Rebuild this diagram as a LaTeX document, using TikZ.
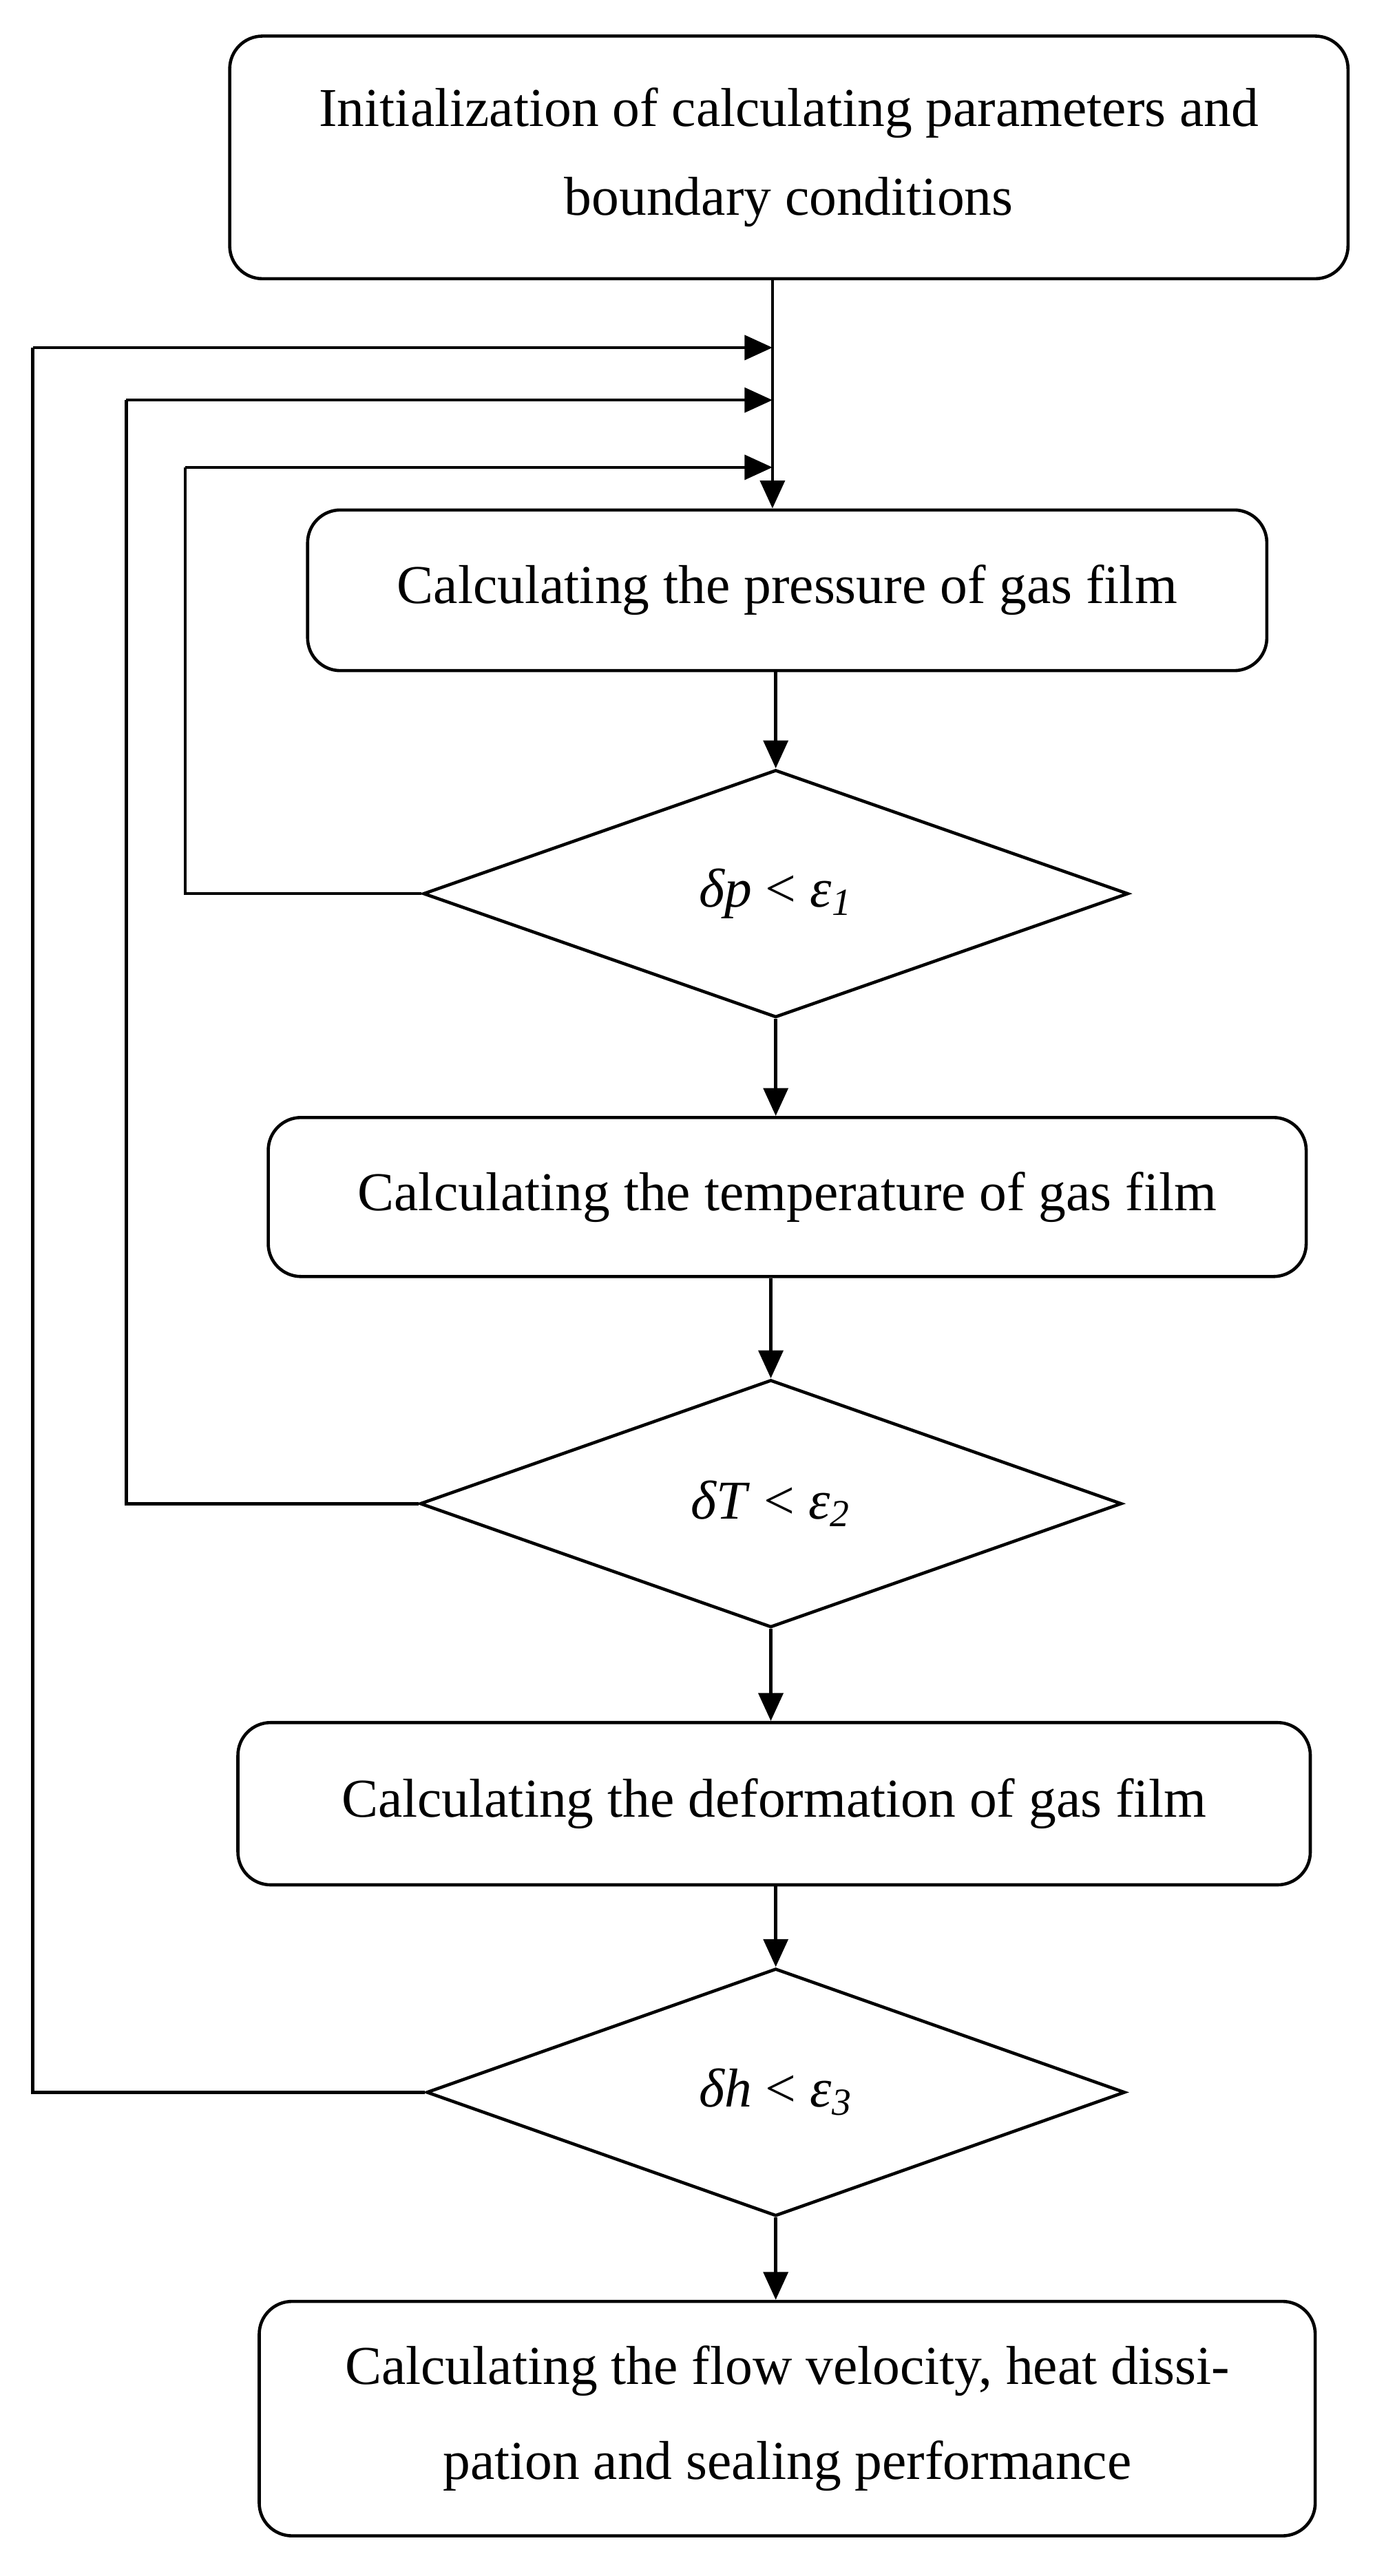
\documentclass[tikz,border=0pt]{standalone}
\usepackage{fontspec}
\setmainfont{Liberation Serif}
\usetikzlibrary{arrows.meta,shapes.geometric}

\begin{document}
\begin{tikzpicture}[
    x=0.02cm, y=-0.02cm,
    >={Triangle[length=0.34cm,width=0.3cm]},
    stepbox/.style={draw, rounded corners=0.4cm, line width=1.1pt,
        minimum width=#1, font=\fontsize{19}{31}\selectfont, align=center},
    testbox/.style={draw, diamond, line width=1.1pt, inner sep=0pt,
        minimum width=8.6cm, minimum height=3.02cm,
        font=\fontsize{19}{31}\selectfont},
    flow/.style={->, line width=1.1pt},
    loopline/.style={line width=1.1pt},
]
\useasboundingbox (0,0) rectangle (838,1571);

% === STEPS ===
\node[stepbox=13.64cm, minimum height=2.96cm] (init) at (481,96)
    {Initialization of calculating parameters and\\boundary conditions};
\node[stepbox=11.7cm, minimum height=1.96cm] (pres) at (480,360)
    {Calculating the pressure of gas film};
\node[testbox] (dp) at (473,545) {\textit{δp} < \textit{ε\textsubscript{1}}};
\node[stepbox=12.66cm, minimum height=1.94cm] (temp) at (480,730)
    {Calculating the temperature of gas film};
\node[testbox, minimum width=8.56cm] (dT) at (470,917) {\textit{δT} < \textit{ε\textsubscript{2}}};
\node[stepbox=13.08cm, minimum height=1.98cm] (defo) at (472,1100)
    {Calculating the deformation of gas film};
\node[testbox, minimum width=8.52cm] (dh) at (473,1276) {\textit{δh} < \textit{ε\textsubscript{3}}};
\node[stepbox=12.88cm, minimum height=2.86cm, font=\fontsize{19}{33}\selectfont] (perf) at (480,1475)
    {Calculating the flow velocity, heat dissi-\\pation and sealing performance};

% === JOINTS ON THE TRUNK ===
\coordinate (jh) at (471,212);
\coordinate (jT) at (471,244);
\coordinate (jp) at (471,285);
\coordinate (ch) at (20,212);
\coordinate (cT) at (77,244);
\coordinate (cp) at (113,285);

% === MAIN FLOW ===
\draw[flow] (init.south -| jh) -- (pres.north -| jh);
\draw[flow] (pres.south -| dp.north) -- (dp.north);
\draw[flow] (dp.south) -- (temp.north -| dp.south);
\draw[flow] (temp.south -| dT.north) -- (dT.north);
\draw[flow] (dT.south) -- (defo.north -| dT.south);
\draw[flow] (defo.south -| dh.north) -- (dh.north);
\draw[flow] (dh.south) -- (perf.north -| dh.south);

% === FEEDBACK LOOPS ===
\draw[loopline] (dp.west) -| (cp);
\draw[flow] (cp) -- (jp);
\draw[loopline] (dT.west) -| (cT);
\draw[flow] (cT) -- (jT);
\draw[loopline] (dh.west) -| (ch);
\draw[flow] (ch) -- (jh);

\end{tikzpicture}
\end{document}
